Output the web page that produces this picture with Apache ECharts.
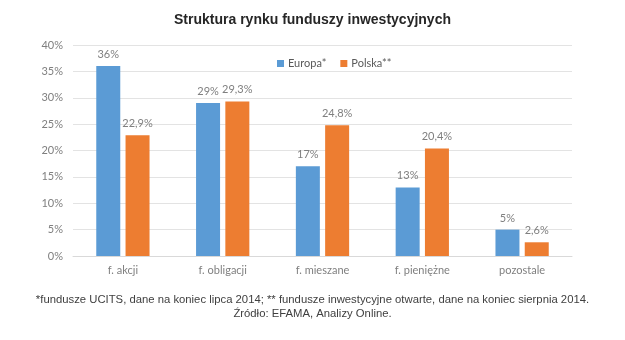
<!DOCTYPE html>
<html><head><meta charset="utf-8">
<script src="https://cdn.jsdelivr.net/npm/echarts@6/dist/echarts.min.js"></script>
<style>html,body{margin:0;padding:0;background:#fff}#c{width:625px;height:340px}</style>
</head><body><div id="c"></div>
<script>
const categories = ['f. akcji', 'f. obligacji', 'f. mieszane', 'f. pieniężne', 'pozostale'];
const europa = [36, 29, 17, 13, 5];
const polska = [22.9, 29.3, 24.8, 20.4, 2.6];
const seriesNames = ['Europa*', 'Polska**'];
const yTicks = [0, 5, 10, 15, 20, 25, 30, 35, 40];
const titleText = 'Struktura rynku funduszy inwestycyjnych';
const noteLines = ['*fundusze UCITS, dane na koniec lipca 2014; ** fundusze inwestycyjne otwarte, dane na koniec sierpnia 2014.', 'Źródło: EFAMA, Analizy Online.'];

const fmt = v => String(v).replace('.', ',') + '%';
const chart = echarts.init(document.getElementById('c'));
const lblFont = 'Lato, "Open Sans", sans-serif';
chart.setOption({
  animation: false,
  title: {
    text: titleText, left: 'center', top: 8,
    textStyle: {fontFamily: '"Liberation Sans Narrow", "Liberation Sans", Arial', fontWeight: 'bold', fontSize: 14, color: '#262626'}
  },
  legend: {
    data: seriesNames, left: 272, top: 53, icon: 'rect', itemWidth: 7, itemHeight: 7, itemGap: 14,
    textStyle: {fontFamily: lblFont, fontSize: 11, color: '#595959', padding: [0,0,0,-1]}
  },
  grid: {left: 73, right: 53, top: 45, bottom: 84, containLabel: false},
  xAxis: {
    type: 'category', data: categories,
    axisLine: {lineStyle: {color: '#d9d9d9'}}, axisTick: {show: false},
    axisLabel: {fontFamily: lblFont, fontSize: 11, color: '#7f7f7f', margin: 9}
  },
  yAxis: {
    type: 'value', min: yTicks[0], max: yTicks[yTicks.length-1], interval: 5,
    axisLabel: {formatter: v => v + '%', fontFamily: lblFont, fontSize: 11, color: '#7f7f7f', margin: 10},
    splitLine: {lineStyle: {color: '#e3e3e3'}}, axisLine: {show: false}, axisTick: {show: false}
  },
  series: [
    {name: seriesNames[0], type: 'bar', data: europa, barWidth: 24, barGap: '22%', itemStyle: {color: '#5b9bd5'},
     label: {show: true, position: 'top', distance: 6, formatter: p => fmt(p.value), fontFamily: lblFont, fontSize: 11, color: '#7f7f7f'}},
    {name: seriesNames[1], type: 'bar', data: polska, barWidth: 24, itemStyle: {color: '#ed7d31'},
     label: {show: true, position: 'top', distance: 6, formatter: p => fmt(p.value), fontFamily: lblFont, fontSize: 11, color: '#7f7f7f'}}
  ],
  graphic: noteLines.map((t, i) => ({
    type: 'text', left: 'center', top: 294 + i * 14,
    style: {text: t, font: '11.3px "Liberation Sans", Arial', fill: '#404040'}
  }))
});
</script></body></html>
